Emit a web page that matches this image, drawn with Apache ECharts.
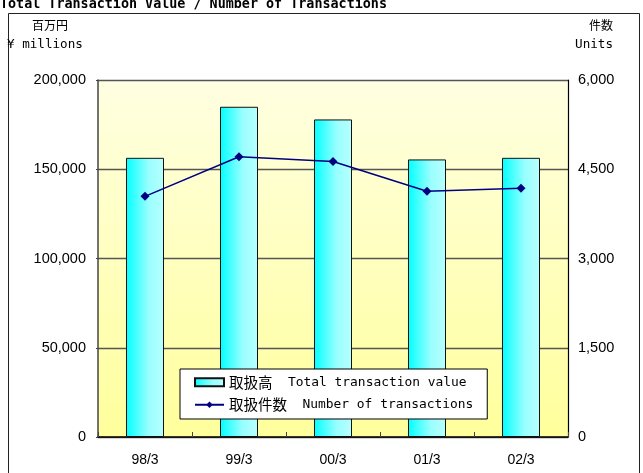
<!DOCTYPE html>
<html>
<head>
<meta charset="utf-8">
<script src="https://cdn.jsdelivr.net/npm/echarts@6/dist/echarts.min.js"></script>
<style>
  html, body { margin: 0; padding: 0; background: #fff; }
  #chart { width: 643px; height: 473px; }
</style>
</head>
<body>
<div id="chart"></div>
<script>
// data
var categories = ["98/3", "99/3", "00/3", "01/3", "02/3"];
var transactionValue = [156400, 185000, 177900, 155500, 156400]; // 百万円
var transactionCount = [4045, 4710, 4630, 4130, 4180];            // 件数
var leftTicks = [0, 50000, 100000, 150000, 200000];
var rightTicks = [0, 1500, 3000, 4500, 6000];

var monoFont = "'DejaVu Sans Mono', 'Liberation Mono', monospace";
var cjkFont = "'Noto Sans CJK JP', 'Noto Sans CJK SC', sans-serif";
var labelFont = "'Liberation Sans', Arial, sans-serif";

var chart = echarts.init(document.getElementById("chart"));

var option = {
  animation: false,
  backgroundColor: "#fff",
  graphic: [
    {
      type: "rect",
      shape: { x: 8.5, y: 13.5, width: 631, height: 480 },
      style: { fill: "none", stroke: "#222", lineWidth: 1 },
      silent: true
    },
    {
      type: "text", left: 0, top: -2,
      style: {
        text: "Total Transaction Value / Number of Transactions",
        font: "bold 13.4px " + monoFont, fill: "#000"
      }
    },
    {
      type: "text", left: 32, top: 19,
      style: { text: "百万円", font: "12px " + cjkFont, fill: "#000" }
    },
    {
      type: "text", left: 7, top: 38,
      style: { text: "¥ millions", font: "12.6px " + monoFont, fill: "#000" }
    },
    {
      type: "text", right: 30, top: 19,
      style: { text: "件数", font: "12px " + cjkFont, fill: "#000" }
    },
    {
      type: "text", right: 30, top: 38,
      style: { text: "Units", font: "12.6px " + monoFont, fill: "#000" }
    }
  ],
  legend: {
    orient: "vertical",
    left: 180,
    top: 369,
    backgroundColor: "#fff",
    borderColor: "#000",
    borderWidth: 1,
    borderRadius: 0,
    padding: [6, 14, 7, 14],
    itemGap: 8,
    itemWidth: 29,
    itemHeight: 8,
    data: [{ name: "取扱高", icon: "rect" }, { name: "取扱件数" }],
    formatter: function (name) {
      var en = name === "取扱高" ? "Total transaction value" : "Number of transactions";
      return "{j|" + name + "}{e|  " + en + "}";
    },
    textStyle: {
      color: "#000",
      rich: {
        j: { fontFamily: cjkFont, fontSize: 14.5, color: "#000" },
        e: { fontFamily: monoFont, fontSize: 12.9, color: "#000" }
      }
    }
  },
  grid: {
    left: 98,
    right: 75,
    top: 80,
    bottom: 36,
    show: true,
    borderWidth: 0,
    backgroundColor: new echarts.graphic.LinearGradient(0, 0, 0, 1, [
      { offset: 0, color: "#FFFFE2" },
      { offset: 1, color: "#FFFF9C" }
    ])
  },
  xAxis: {
    type: "category",
    data: categories,
    axisLine: { lineStyle: { color: "#000", width: 1.5 } },
    axisTick: { show: true, inside: true, length: 5, lineStyle: { color: "#444" } },
    axisLabel: { margin: 16, fontSize: 14, fontFamily: labelFont, color: "#000" }
  },
  yAxis: [
    {
      type: "value",
      min: leftTicks[0],
      max: leftTicks[leftTicks.length - 1],
      interval: leftTicks[1] - leftTicks[0],
      axisLine: { show: true, lineStyle: { color: "#444", width: 1.5 } },
      axisTick: { show: true, length: 2, lineStyle: { color: "#444" } },
      splitLine: { show: true, lineStyle: { color: "#555", width: 1.3 } },
      axisLabel: {
        margin: 12, fontSize: 14.5, fontFamily: labelFont, color: "#000",
        formatter: function (v) { return v.toLocaleString("en-US"); }
      }
    },
    {
      type: "value",
      min: rightTicks[0],
      max: rightTicks[rightTicks.length - 1],
      interval: rightTicks[1] - rightTicks[0],
      axisLine: { show: true, lineStyle: { color: "#000", width: 1.2 } },
      axisTick: { show: false },
      splitLine: { show: false },
      axisLabel: {
        margin: 10, fontSize: 14.5, fontFamily: labelFont, color: "#000",
        formatter: function (v) { return v.toLocaleString("en-US"); }
      }
    }
  ],
  series: [
    {
      name: "取扱高",
      type: "bar",
      yAxisIndex: 0,
      barWidth: 38,
      data: transactionValue,
      itemStyle: {
        borderColor: "#111",
        borderWidth: 1,
        color: new echarts.graphic.LinearGradient(0, 0, 1, 0, [
          { offset: 0, color: "#00FFFF" },
          { offset: 0.6, color: "#99FFFF" },
          { offset: 1, color: "#B8FFFF" }
        ])
      }
    },
    {
      name: "取扱件数",
      type: "line",
      yAxisIndex: 1,
      data: transactionCount,
      symbol: "diamond",
      symbolSize: 9,
      lineStyle: { color: "#000080", width: 1.5 },
      itemStyle: { color: "#000080" }
    }
  ]
};

chart.setOption(option);
</script>
</body>
</html>
